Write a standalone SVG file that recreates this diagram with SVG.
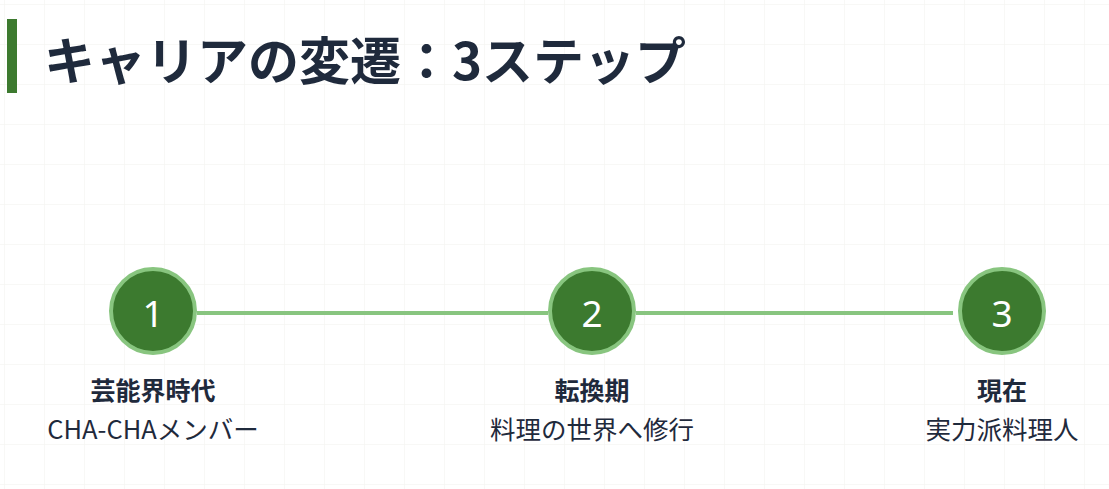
<svg xmlns="http://www.w3.org/2000/svg" width="1109" height="489" viewBox="0 0 1109 489">
<defs>
<pattern id="grid" x="4" y="4" width="40" height="40" patternUnits="userSpaceOnUse">
<path d="M0 0H40M0 0V40" fill="none" stroke="#f2f2ee" stroke-width="1"/>
</pattern>
<style>
.title{font-family:"Noto Sans CJK JP","Noto Sans",sans-serif;font-weight:700;font-size:51px;fill:#1f2a3c}
.num{font-family:"Noto Sans","Noto Sans CJK JP",sans-serif;font-size:37px;fill:#ffffff;text-anchor:middle}
.lab{font-family:"Noto Sans CJK JP",sans-serif;font-weight:700;font-size:25px;fill:#1f2a3c;text-anchor:middle}
.sub{font-family:"Noto Sans CJK JP",sans-serif;font-size:25.5px;fill:#1f2a3c;text-anchor:middle}
.dot{fill:#3c7a2f;stroke:#88c57f;stroke-width:4}
.conn{stroke:#88c57f;stroke-width:4;fill:none}
</style>
</defs>
<rect width="1109" height="489" fill="#ffffff"/>
<rect width="1109" height="489" fill="url(#grid)"/>
<g id="title">
<rect x="7" y="19" width="10" height="74" fill="#3d7a2f"/>
<text class="title" x="44" y="80">キャリアの変遷：3ステップ</text>
</g>
<g id="connectors">
<line class="conn" x1="197" y1="313" x2="548" y2="313"/>
<line class="conn" x1="636" y1="313" x2="953" y2="313"/>
</g>
<g id="step1">
<circle class="dot" cx="153" cy="311" r="42"/>
<text class="num" x="153" y="327">1</text>
<text class="lab" x="153" y="400">芸能界時代</text>
<text class="sub" x="153" y="439">CHA-CHAメンバー</text>
</g>
<g id="step2">
<circle class="dot" cx="592" cy="311" r="42"/>
<text class="num" x="592" y="327">2</text>
<text class="lab" x="592" y="400">転換期</text>
<text class="sub" x="592" y="439">料理の世界へ修行</text>
</g>
<g id="step3">
<circle class="dot" cx="1002" cy="311" r="42"/>
<text class="num" x="1002" y="327">3</text>
<text class="lab" x="1002" y="400">現在</text>
<text class="sub" x="1002" y="439">実力派料理人</text>
</g>
</svg>
